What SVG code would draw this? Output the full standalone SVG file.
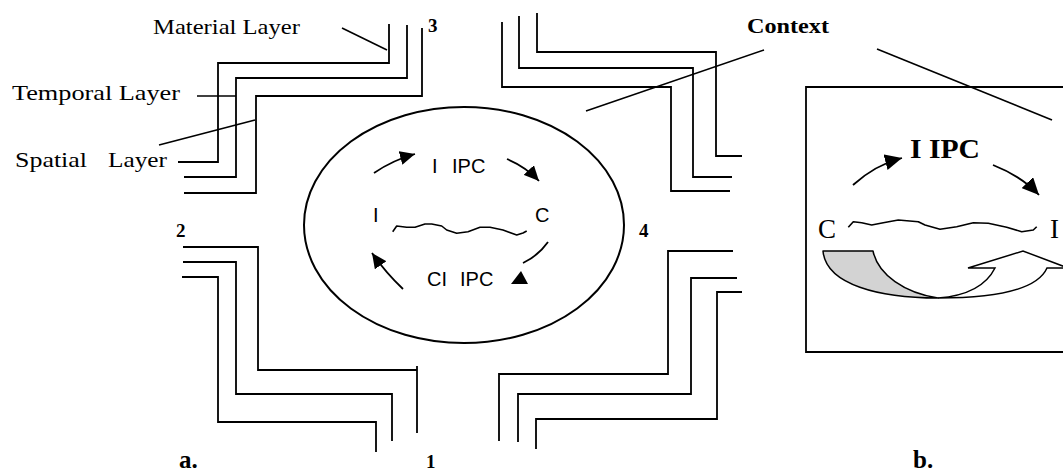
<svg xmlns="http://www.w3.org/2000/svg" width="1063" height="470" viewBox="0 0 1063 470">
<style>
.ln{fill:none;stroke:#000;stroke-width:1.8;stroke-linejoin:miter}
.ld{fill:none;stroke:#000;stroke-width:1.6}
.ser{font-family:"Liberation Serif","Times New Roman",serif;fill:#000}
.bold{font-weight:bold}
.sans{font-family:"Liberation Sans",Arial,sans-serif;font-size:20px;fill:#000}
.arr{fill:none;stroke:#000;stroke-width:1.8}
</style>
<defs>
<marker id="ah" markerUnits="userSpaceOnUse" markerWidth="16" markerHeight="14" refX="15" refY="7" orient="auto">
<path d="M0,0 L15,7 L0,14 Z" fill="#000"/>
</marker>
<marker id="ahb" markerUnits="userSpaceOnUse" markerWidth="18" markerHeight="16" refX="17" refY="8" orient="auto">
<path d="M0,0 L17,8 L0,16 Z" fill="#000"/>
</marker>
</defs>
<rect width="1063" height="470" fill="#fff"/>

<g id="layers">
<g id="bracket-top-left">
<polyline class="ln" points="389,24 389,63 218,63 218,162 178,162"/>
<polyline class="ln" points="407,25 407,78 236,78 236,177 184,177"/>
<polyline class="ln" points="422,28 422,96 256,96 256,193 184,193"/>
</g>
<g id="bracket-top-right">
<polyline class="ln" points="502,22 502,87 671,87 671,191 730,191"/>
<polyline class="ln" points="519,16 519,68 693,68 693,177 732,177"/>
<polyline class="ln" points="537,13 537,52 716,52 716,156 742,156"/>
</g>
<g id="bracket-bottom-left">
<polyline class="ln" points="183,247 258,247 258,370 417,370"/>
<line class="ln" x1="417" y1="366" x2="417" y2="433"/>
<polyline class="ln" points="183,262 236,262 236,394 392,394 392,441"/>
<polyline class="ln" points="182,277 218,277 218,422 376,422 376,452"/>
</g>
<g id="bracket-bottom-right">
<polyline class="ln" points="733,251 668,251 668,374 499,374 499,441"/>
<polyline class="ln" points="737,278 691,278 691,394 518,394 518,442"/>
<polyline class="ln" points="742,292 717,292 717,419 536,419 536,449"/>
</g>
</g>

<g id="connectors">
<line class="ld" x1="342" y1="28" x2="387" y2="50"/>
<line class="ld" x1="197" y1="96" x2="236" y2="96"/>
<line class="ld" x1="159" y1="145" x2="255" y2="120"/>
<line class="ld" x1="586" y1="111" x2="764" y2="50"/>
<line class="ld" x1="877" y1="49" x2="1052" y2="120"/>
</g>

<g id="labels">
<text class="ser" x="153" y="34" font-size="22" textLength="147" lengthAdjust="spacingAndGlyphs">Material Layer</text>
<text class="ser" x="12" y="100" font-size="22" textLength="168" lengthAdjust="spacingAndGlyphs">Temporal Layer</text>
<text class="ser" y="167" font-size="22"><tspan x="15" textLength="72" lengthAdjust="spacingAndGlyphs">Spatial</tspan> <tspan x="108" textLength="59" lengthAdjust="spacingAndGlyphs">Layer</tspan></text>
<text class="ser bold" x="747" y="33" font-size="22" textLength="82" lengthAdjust="spacingAndGlyphs">Context</text>
<text class="ser bold" x="428" y="32" font-size="19">3</text>
<text class="ser bold" x="176" y="237" font-size="19">2</text>
<text class="ser bold" x="639" y="237" font-size="19">4</text>
<text class="ser bold" x="426" y="468" font-size="19">1</text>
<text class="ser bold" x="179" y="468" font-size="25">a.</text>
<text class="ser bold" x="913" y="468" font-size="25">b.</text>
</g>

<g id="node-ellipse">
<ellipse cx="464" cy="225" rx="160" ry="118" fill="none" stroke="#000" stroke-width="2"/>
<text class="sans"><tspan x="432" y="173">I</tspan> <tspan x="452" y="173">IPC</tspan></text>
<text class="sans" x="373" y="222">I</text>
<text class="sans" x="535" y="222">C</text>
<text class="sans"><tspan x="427" y="286">CI</tspan> <tspan x="460" y="286">IPC</tspan></text>
<path class="arr" d="M374,173 Q393,160 415,154" marker-end="url(#ah)"/>
<path class="arr" d="M507,159 Q526,167 539,181" marker-end="url(#ah)"/>
<path class="arr" d="M403,289 Q386,273 372,253" marker-end="url(#ah)"/>
<path class="arr" d="M548,242 Q538,256 523,263"/>
<path d="M521,271 L528,284 L511,284 Z" fill="#000"/>
<polyline fill="none" stroke="#000" stroke-width="1.6" stroke-linejoin="round" points="392.7,231.7 396.7,226 406.7,227.3 415,227.3 425,224 431.7,224 441.7,226 446.7,230 456.7,233.3 468,231.7 480,227.3 490,227.3 503,230 516.7,235 523,233 526.7,231"/>
</g>

<g id="panel-b">
<path class="ln" d="M1063,87 L806,87 L806,352 L1063,352"/>
<text class="ser bold" x="910" y="158" font-size="27" textLength="70" lengthAdjust="spacingAndGlyphs">I IPC</text>
<text class="ser" x="818" y="238" font-size="27">C</text>
<text class="ser" x="1050" y="238" font-size="27">I</text>
<path class="arr" d="M853,185 Q875,165 902,158" marker-end="url(#ahb)"/>
<path class="arr" d="M993,165 Q1021,176 1039,195" marker-end="url(#ahb)"/>
<polyline fill="none" stroke="#000" stroke-width="1.6" stroke-linejoin="round" points="848.3,227.3 853.3,221.7 861.7,222.7 871.7,225 883.3,222.7 898.3,220 918.3,221.7 925,225 940,229.3 956.7,226.7 973.3,222.7 988.3,223.3 1006.7,227.3 1021.7,231.7 1033.3,230 1036.7,226.7"/>
<path d="M823,251 L873,251 C878,275 905,293 938,298 C880,298 826,285 823,251 Z" fill="#d3d3d3" stroke="#000" stroke-width="1.5" stroke-linejoin="round"/>
<path d="M938,298 C975,298 1035,295 1047,268 L1068,268 L1023,251 L968,268 L995,268 C985,288 965,296 938,298 Z" fill="#fff" stroke="#000" stroke-width="1.5" stroke-linejoin="miter"/>
</g>
</svg>
